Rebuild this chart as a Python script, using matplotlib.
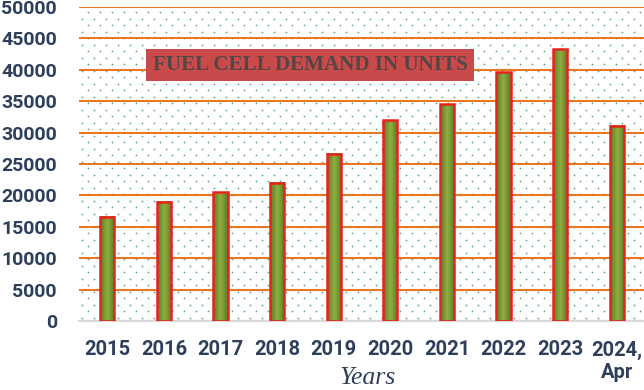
import numpy as np
import matplotlib
matplotlib.use("Agg")
import matplotlib.pyplot as plt

# data
years = ["2015", "2016", "2017", "2018", "2019", "2020", "2021", "2022", "2023", "2024,\nApr"]
demand = [16600, 19000, 20500, 22000, 26600, 32000, 34500, 39600, 43300, 31100]
y_ticks = [0, 5000, 10000, 15000, 20000, 25000, 30000, 35000, 40000, 45000, 50000]

navy = "#2e3f5c"
label_font = ["Roboto", "DejaVu Sans"]
serif_font = ["Liberation Serif", "DejaVu Serif"]

fig = plt.figure(figsize=(6.44, 3.90), dpi=100)
ax = fig.add_axes([79 / 644, 1 - 321 / 390, 566 / 644, 314 / 390])

# dotted background pattern
dx, dy = 12 / 566, 6.5 / 314
px, py = [], []
for i, yy in enumerate(np.arange(dy / 2, 1.0, dy)):
    off = dx / 2 if i % 2 else 0
    for xx in np.arange(off + 0.005, 1.0, dx):
        px.append(xx)
        py.append(yy)
ax.scatter(px, py, s=1.6, color="#5f9e8f", transform=ax.transAxes,
           zorder=0.1, linewidths=0)

# bars with horizontal gradient
x = np.arange(len(years))
width = 0.25
grad = np.abs(np.linspace(-1, 1, 64))
cmap = matplotlib.colors.LinearSegmentedColormap.from_list(
    "g", ["#8fae3e", "#58782a"])
for xi, v in zip(x, demand):
    ax.imshow(grad[np.newaxis, :], cmap=cmap, aspect="auto",
              extent=(xi - width / 2, xi + width / 2, 0, v), zorder=2)
ax.bar(x, demand, width=width, facecolor="none", edgecolor="#e8231b",
       linewidth=1.8, zorder=3)

ax.set_xlim(-0.5, len(years) - 0.5)
ax.set_ylim(0, 50000)
ax.set_yticks(y_ticks)
ax.set_yticklabels([str(t) for t in y_ticks])
ax.set_xticks(x)
ax.set_xticklabels(years, linespacing=1.2)

ax.set_axisbelow(True)
ax.yaxis.grid(True, color="#e87722", linewidth=1.5, zorder=0.5)
ax.xaxis.grid(False)

for s in ["top", "left", "right"]:
    ax.spines[s].set_visible(False)
ax.spines["bottom"].set_color("#d9d9d9")
ax.spines["bottom"].set_linewidth(1.5)
ax.spines["bottom"].set_zorder(1)

ax.tick_params(axis="both", length=0)
ax.tick_params(axis="y", pad=16)
ax.tick_params(axis="x", pad=14)
for lab in ax.get_yticklabels():
    lab.set_fontsize(14)
for lab in ax.get_xticklabels():
    lab.set_fontsize(14.5)
    lab.set_verticalalignment("top")
for lab in ax.get_yticklabels() + ax.get_xticklabels():
    lab.set_fontfamily(label_font)
    lab.set_fontweight("bold")
    lab.set_color(navy)

fig.text(368 / 644, 1 - 378 / 390, "Years", ha="center", va="center",
         fontsize=18.5, style="italic", family=serif_font, color=navy)

fig.text(310 / 644, 1 - 65 / 390, "FUEL CELL DEMAND IN UNITS", ha="center",
         va="center", fontsize=15.2, fontweight="bold",
         family=serif_font, color="#524646",
         bbox=dict(facecolor="#c94a4a", edgecolor="none",
                   boxstyle="square,pad=0.3"),
         zorder=5)

fig.savefig("out.png", dpi=100)
